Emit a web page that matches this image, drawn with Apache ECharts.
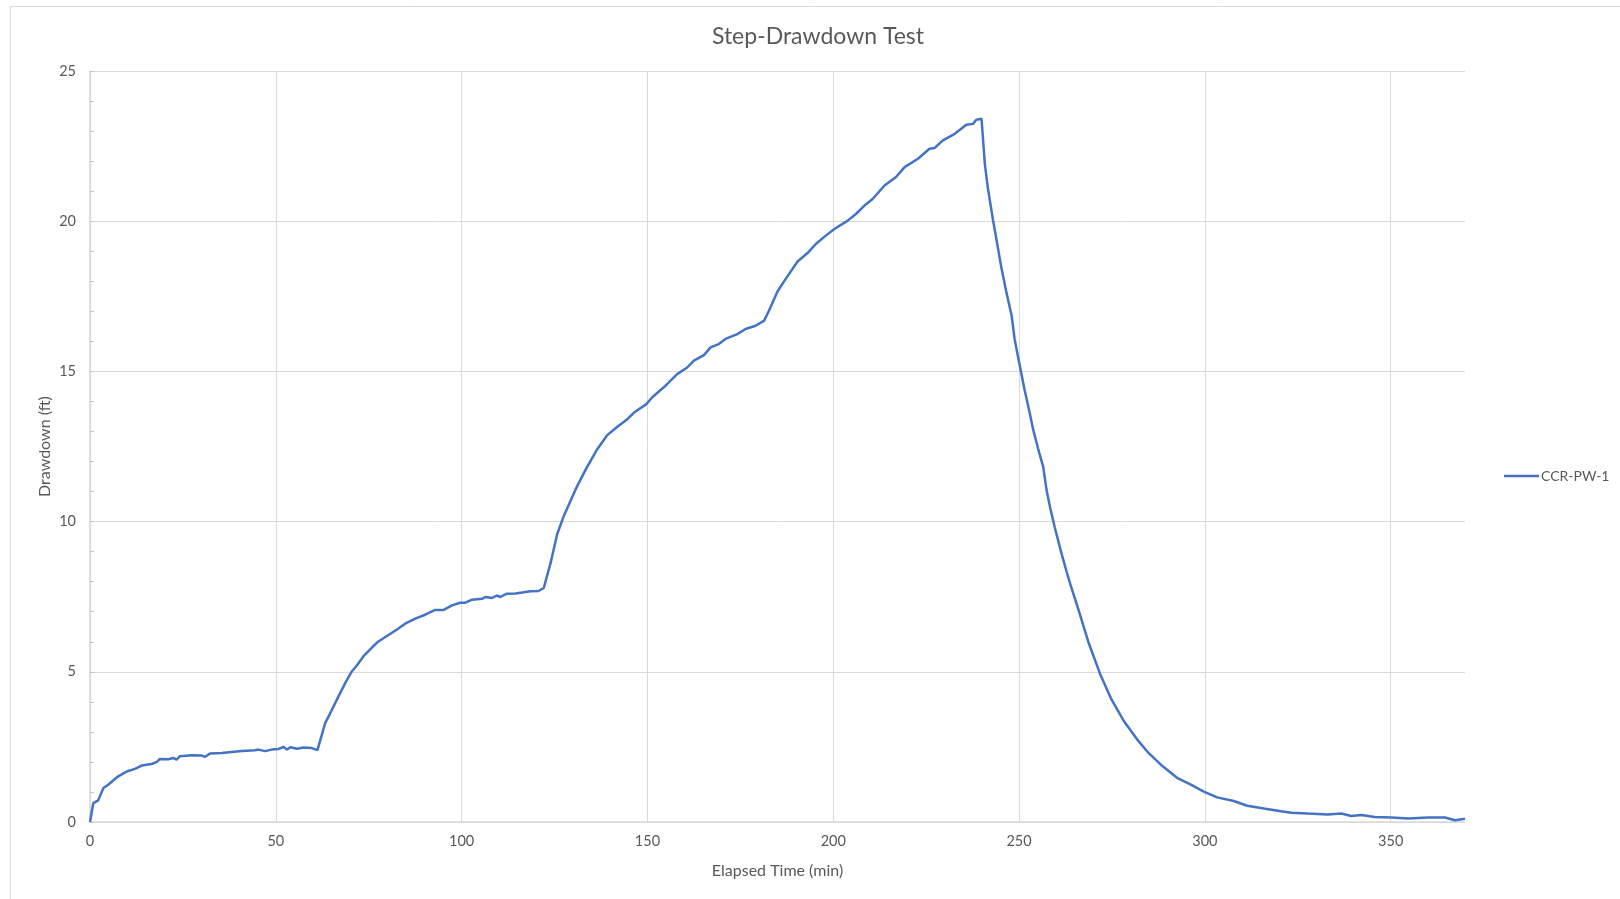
<!DOCTYPE html>
<html>
<head>
<meta charset="utf-8">
<title>Step-Drawdown Test</title>
<script src="https://cdn.jsdelivr.net/npm/echarts@6/dist/echarts.min.js"></script>
<style>
  html, body { margin: 0; padding: 0; background: #ffffff; }
  #chart { width: 1620px; height: 899px; }
</style>
</head>
<body>
<div id="chart"></div>
<script>
// Well CCR-PW-1 step-drawdown record
const seriesName = 'CCR-PW-1';

const elapsedMin = [
  0, 0.9, 2.2, 3.6, 4.9, 6.3, 7.6, 9.9, 12.1, 13.9,
  16.6, 18.0, 18.8, 21.1, 22.4, 23.3, 24.2, 27.4, 30.1, 31.0,
  32.3, 35.5, 38.1, 40.8, 44.4, 45.3, 47.1, 48.9, 50.7, 52.1,
  53.0, 53.9, 55.7, 57.5, 59.7, 61.2, 62.4, 63.3, 64.6, 66.9,
  68.7, 70.5, 71.8, 73.6, 75.8, 77.6, 79.9, 82.6, 84.8, 87.5,
  90.2, 92.9, 95.2, 97.4, 99.6, 101.0, 102.8, 105.5, 106.4, 108.2,
  109.5, 110.4, 112.2, 114.5, 116.3, 118.5, 120.7, 122.1, 124.0, 125.7,
  127.5, 130.7, 133.4, 136.5, 139.2, 141.9, 144.6, 146.4, 149.7, 151.3,
  154.4, 158.0, 160.7, 162.5, 165.2, 167.0, 169.2, 171.0, 174.2, 176.4,
  179.1, 181.4, 182.7, 185.0, 187.2, 190.4, 193.1, 195.3, 198.0, 200.3,
  203.9, 206.1, 208.4, 210.6, 213.8, 216.9, 219.2, 222.8, 225.9, 227.3,
  229.5, 232.7, 235.8, 237.6, 238.5, 239.9, 240.8, 241.6, 243.0, 243.9,
  245.2, 246.6, 248.0, 248.8, 250.0, 251.5, 252.9, 253.8, 255.1, 256.5,
  257.4, 258.3, 259.6, 261.4, 262.8, 264.1, 265.9, 268.6, 271.8, 274.9,
  278.1, 281.7, 284.9, 288.5, 292.5, 296.1, 299.7, 303.3, 307.8, 311.4,
  315.9, 320.5, 323.2, 327.7, 333.1, 336.7, 339.4, 342.1, 345.7, 350.2,
  354.7, 360.1, 364.6, 367.3, 370.0
];

const drawdownFt = [
  0, 0.63, 0.72, 1.13, 1.24, 1.39, 1.52, 1.68, 1.77, 1.88,
  1.93, 2.00, 2.10, 2.09, 2.13, 2.08, 2.19, 2.22, 2.21, 2.17,
  2.28, 2.30, 2.33, 2.36, 2.39, 2.41, 2.36, 2.41, 2.43, 2.50,
  2.41, 2.49, 2.44, 2.48, 2.46, 2.39, 2.91, 3.30, 3.61, 4.19,
  4.63, 5.02, 5.21, 5.52, 5.80, 6.01, 6.19, 6.41, 6.60, 6.77,
  6.90, 7.06, 7.06, 7.21, 7.30, 7.30, 7.40, 7.43, 7.49, 7.46,
  7.54, 7.49, 7.60, 7.61, 7.64, 7.68, 7.69, 7.79, 8.65, 9.58,
  10.19, 11.08, 11.74, 12.41, 12.88, 13.16, 13.41, 13.63, 13.91, 14.14,
  14.47, 14.91, 15.13, 15.36, 15.54, 15.80, 15.91, 16.08, 16.24, 16.41,
  16.52, 16.69, 17.02, 17.66, 18.08, 18.66, 18.94, 19.24, 19.52, 19.74,
  20.02, 20.24, 20.52, 20.74, 21.19, 21.47, 21.80, 22.08, 22.41, 22.44,
  22.69, 22.91, 23.21, 23.24, 23.38, 23.41, 21.90, 21.11, 20.03, 19.41,
  18.48, 17.63, 16.86, 16.08, 15.31, 14.38, 13.60, 13.06, 12.44, 11.82,
  11.05, 10.50, 9.81, 8.95, 8.33, 7.79, 7.10, 6.01, 4.93, 4.07,
  3.38, 2.76, 2.29, 1.87, 1.47, 1.25, 1.01, 0.82, 0.70, 0.54,
  0.45, 0.36, 0.31, 0.28, 0.25, 0.28, 0.20, 0.23, 0.17, 0.15,
  0.12, 0.15, 0.15, 0.06, 0.11
];

const xTicks = [0, 50, 100, 150, 200, 250, 300, 350];
const yTicks = [0, 5, 10, 15, 20, 25];

const points = elapsedMin.map((t, i) => [t, drawdownFt[i]]);

const FONT = 'Lato, "Open Sans", sans-serif';
const TEXT = '#595959';
const GRID = '#d9d9d9';

const chart = echarts.init(document.getElementById('chart'), null, { renderer: 'canvas' });

chart.setOption({
  backgroundColor: '#ffffff',
  animation: false,
  textStyle: { fontFamily: FONT },
  title: {
    text: 'Step-Drawdown Test',
    left: 813,
    top: 20,
    textAlign: 'center',
    textStyle: { fontFamily: FONT, fontSize: 23, fontWeight: 'normal', color: TEXT }
  },
  graphic: [{
    type: 'rect',
    silent: true,
    z: -1,
    shape: { x: 10.5, y: 6.5, width: 1700, height: 1000 },
    style: { fill: 'none', stroke: GRID, lineWidth: 1 }
  }],
  legend: {
    orient: 'vertical',
    left: 1499,
    top: 464,
    icon: 'rect',
    itemWidth: 35,
    itemHeight: 2.5,
    itemGap: 4,
    textStyle: { fontFamily: FONT, fontSize: 14, color: TEXT, padding: [0, 0, 0, -3] },
    data: [seriesName]
  },
  grid: { left: 90, right: 155, top: 71, bottom: 77, containLabel: false },
  xAxis: {
    type: 'value',
    min: xTicks[0],
    max: 370,
    interval: xTicks[1] - xTicks[0],
    name: 'Elapsed Time (min)',
    nameLocation: 'middle',
    nameGap: 41,
    nameMoveOverlap: false,
    nameTextStyle: { fontFamily: FONT, fontSize: 16, color: TEXT },
    axisLine: { show: true, lineStyle: { color: GRID, width: 1.5 } },
    axisTick: { show: false },
    axisLabel: {
      margin: 12,
      fontFamily: FONT, fontSize: 14.5, color: TEXT,
      showMaxLabel: false,
      formatter: v => (xTicks.indexOf(v) >= 0 ? String(v) : '')
    },
    splitLine: { show: true, showMaxLine: false, lineStyle: { color: GRID, width: 1 } }
  },
  yAxis: {
    type: 'value',
    min: yTicks[0],
    max: yTicks[yTicks.length - 1],
    interval: yTicks[1] - yTicks[0],
    name: 'Drawdown (ft)',
    nameLocation: 'middle',
    nameGap: 37,
    nameMoveOverlap: false,
    nameTextStyle: { fontFamily: FONT, fontSize: 16, color: TEXT },
    axisLine: { show: true, lineStyle: { color: GRID, width: 1.5 } },
    axisTick: { show: true, inside: true, length: 4, lineStyle: { color: '#c8c8c8' } },
    minorTick: { show: true, splitNumber: 5, length: 4, lineStyle: { color: '#c8c8c8' } },
    axisLabel: { margin: 14, fontFamily: FONT, fontSize: 14.5, color: TEXT },
    splitLine: { show: true, lineStyle: { color: GRID, width: 1 } }
  },
  series: [{
    name: seriesName,
    type: 'line',
    data: points,
    symbol: 'none',
    smooth: false,
    lineStyle: { color: '#4472C4', width: 2.5 },
    itemStyle: { color: '#4472C4' }
  }]
});
</script>
</body>
</html>
